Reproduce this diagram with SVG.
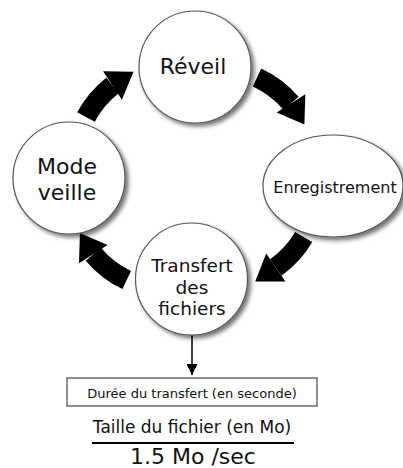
<svg xmlns="http://www.w3.org/2000/svg" width="403" height="468" viewBox="0 0 403 468">
<defs>
<filter id="sh" x="-20%" y="-20%" width="150%" height="150%">
<feDropShadow dx="3" dy="3" stdDeviation="2" flood-color="#000" flood-opacity="0.55"/>
</filter>
<marker id="ah" viewBox="0 0 10 10" refX="10" refY="5" markerWidth="11" markerHeight="11" markerUnits="userSpaceOnUse" orient="auto">
<path d="M0,0 L10,5 L0,10 Z" fill="#000"/>
</marker>
</defs>
<style>
.node{fill:#fff;stroke:#555;stroke-width:1.2;filter:url(#sh)}
.t{font-family:"DejaVu Sans",Verdana,sans-serif;fill:#111;text-anchor:middle}
.shaft{fill:none;stroke:#000;stroke-width:20}
.head{fill:#000}
</style>
<g id="connectors">
<path class="shaft" d="M86,117 A100,100 0 0 1 112.5,85.5"/>
<polygon class="head" points="103.1,71.2 133.5,71.8 121.9,99.8"/>
<path class="shaft" d="M257,77.5 A100,100 0 0 1 291,103.3"/>
<polygon class="head" points="305.3,94.2 304.4,124.4 276.7,112.4"/>
<path class="shaft" d="M303.7,237 A100,100 0 0 1 275.8,267.5"/>
<polygon class="head" points="285.4,281.5 255.2,281.6 266.2,253.5"/>
<path class="shaft" d="M126.7,280 A100,100 0 0 1 93.3,254.2"/>
<polygon class="head" points="107.6,245.1 79.9,233.1 79,263.3"/>
<line x1="192" y1="335" x2="192" y2="375" stroke="#000" stroke-width="1.5" marker-end="url(#ah)"/>
</g>
<g id="reveil">
<circle class="node" cx="195" cy="67" r="56"/>
<text class="t" x="193" y="74" font-size="22">Réveil</text>
</g>
<g id="enregistrement">
<ellipse class="node" cx="333" cy="186" rx="70" ry="51"/>
<text class="t" x="335" y="193" font-size="16">Enregistrement</text>
</g>
<g id="transfert">
<circle class="node" cx="191.5" cy="279" r="56"/>
<text class="t" x="192" y="272" font-size="18.5">Transfert</text>
<text class="t" x="192" y="293.5" font-size="18.5">des</text>
<text class="t" x="192" y="315" font-size="18.5">fichiers</text>
</g>
<g id="mode-veille">
<circle class="node" cx="69" cy="178" r="56"/>
<text class="t" x="67" y="174" font-size="22">Mode</text>
<text class="t" x="67" y="200" font-size="22">veille</text>
</g>
<g id="duree">
<rect x="67" y="378" width="250" height="28" fill="#fff" stroke="#444" stroke-width="1.2"/>
<text class="t" x="192" y="398" font-size="13">Durée du transfert (en seconde)</text>
</g>
<g id="formule">
<text class="t" x="192" y="433" font-size="17">Taille du fichier (en Mo)</text>
<line x1="92" y1="443" x2="294" y2="443" stroke="#000" stroke-width="2"/>
<text class="t" x="193" y="464" font-size="22">1.5 Mo /sec</text>
</g>
</svg>
